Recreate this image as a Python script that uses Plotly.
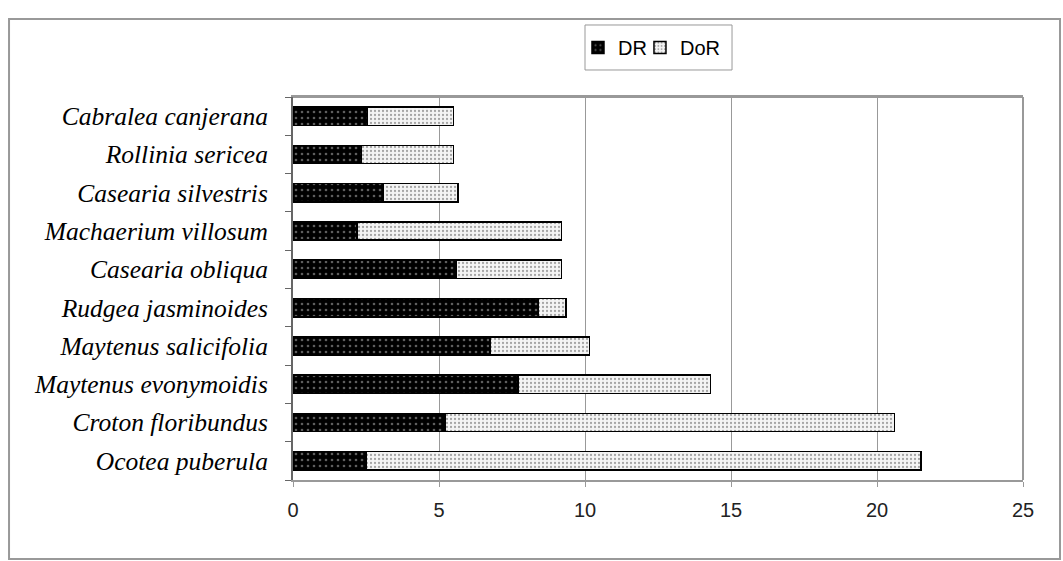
import plotly.graph_objects as go

species = ["Ocotea puberula", "Croton floribundus", "Maytenus evonymoidis",
           "Maytenus salicifolia", "Rudgea jasminoides", "Casearia obliqua",
           "Machaerium villosum", "Casearia silvestris", "Rollinia sericea",
           "Cabralea canjerana"]
dr = [2.5, 5.2, 7.7, 6.75, 8.4, 5.6, 2.2, 3.1, 2.35, 2.55]
dor = [19.0, 15.4, 6.6, 3.4, 0.95, 3.6, 7.0, 2.55, 3.15, 2.95]
x_ticks = [0, 5, 10, 15, 20, 25]

fig = go.Figure()
fig.add_trace(go.Bar(
    y=species, x=dr, orientation="h", name="DR", legend="legend",
    marker=dict(color="black", line=dict(color="black", width=1.5),
                pattern=dict(shape=".", fgcolor="#bbbbbb", bgcolor="black",
                             size=6, solidity=0.15)),
))
fig.add_trace(go.Bar(
    y=species, x=dor, orientation="h", name="DoR", legend="legend2",
    marker=dict(color="white", line=dict(color="black", width=1.5),
                pattern=dict(shape=".", fgcolor="#555555", bgcolor="#f4f4f4",
                             size=4, solidity=0.25)),
))

leg_common = dict(orientation="h", xanchor="left", y=1.129, yanchor="middle",
                  font=dict(family="Arial, Liberation Sans", size=20, color="black"),
                  borderwidth=0, bgcolor="rgba(0,0,0,0)")

fig.update_layout(
    barmode="stack",
    bargap=0.52,
    width=1063, height=561,
    margin=dict(l=293, r=40, t=97, b=81),
    paper_bgcolor="white", plot_bgcolor="white",
    showlegend=True,
    legend=dict(x=0.3904, **leg_common),
    legend2=dict(x=0.4753, **leg_common),
    xaxis=dict(range=[0, 25], tickvals=x_ticks, showgrid=True, gridcolor="#999999",
               gridwidth=1, showline=True, linecolor="#999999", linewidth=2, mirror=True,
               ticks="outside", ticklen=5, tickcolor="#999999", zeroline=False,
               ticklabelstandoff=6,
               tickfont=dict(family="Arial, Liberation Sans", size=20, color="#222222")),
    yaxis=dict(showline=True, linecolor="#666666", linewidth=2, ticks="outside",
               tickson="boundaries", ticklen=6, tickcolor="#666666", showgrid=False,
               ticklabelstandoff=18,
               tickfont=dict(family="Liberation Serif, Times New Roman", size=25.5,
                             color="black", style="italic")),
    shapes=[dict(type="rect", xref="paper", yref="paper",
                 x0=-0.389, x1=1.0507, y0=-0.206, y1=1.2037,
                 line=dict(color="#999999", width=2), layer="below"),
            dict(type="rect", xref="paper", yref="paper",
                 x0=0.4, x1=0.6014, y0=1.0705, y1=1.188,
                 line=dict(color="#999999", width=1), layer="below"),
            dict(type="line", xref="paper", yref="paper", x0=1, x1=1, y0=0, y1=1,
                 line=dict(color="#999999", width=2)),
            dict(type="line", xref="paper", yref="paper", x0=0, x1=1, y0=1, y1=1,
                 line=dict(color="#999999", width=2))],
)

fig.write_html("out.html", config={"displayModeBar": False},
               post_script="document.body.style.margin='0';document.body.style.overflow='hidden';")
